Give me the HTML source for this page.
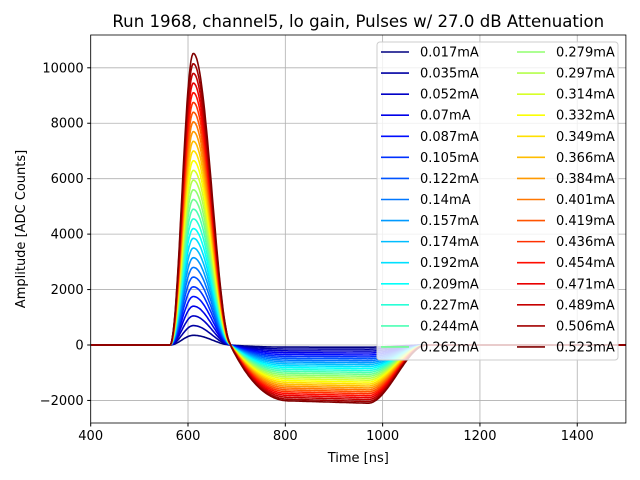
<!DOCTYPE html>
<html><head><meta charset="utf-8"><style>
body{margin:0;background:#fff;}
svg{display:block;font-family:"DejaVu Sans","Liberation Sans",sans-serif;}
</style></head><body>
<svg id="chart" width="640" height="480"></svg>
<script>
const currents=[0.017,0.035,0.052,0.07,0.087,0.105,0.122,0.14,0.157,0.174,0.192,0.209,0.227,0.244,0.262,0.279,0.297,0.314,0.332,0.349,0.366,0.384,0.401,0.419,0.436,0.454,0.471,0.489,0.506,0.523];
const peaks=[350,700,1050,1400,1750,2100,2450,2800,3150,3500,3850,4200,4550,4900,5250,5600,5950,6300,6650,7000,7350,7700,8050,8400,8750,9100,9450,9800,10150,10520];
const undershoots=[-80,-150,-220,-290,-360,-430,-500,-570,-640,-710,-780,-850,-920,-990,-1060,-1130,-1200,-1270,-1340,-1410,-1480,-1550,-1620,-1690,-1760,-1830,-1900,-1970,-2040,-2100];
const xTicks=[400,600,800,1000,1200,1400];
const yTicks=[-2000,0,2000,4000,6000,8000,10000];
const NS="http://www.w3.org/2000/svg";
const svg=document.getElementById('chart');
const L=90.7,R=625.9,T=35,B=423;
const X=v=>L+(v-400)/(1500-400)*(R-L);
const Y=v=>345-v*0.02772;
function el(t,a,p){const e=document.createElementNS(NS,t);for(const k in a)e.setAttribute(k,a[k]);(p||svg).appendChild(e);return e;}
function jet(f){const r=Math.min(Math.max(Math.min(4*f-1.5,-4*f+4.5),0),1),g=Math.min(Math.max(Math.min(4*f-0.5,-4*f+3.5),0),1),b=Math.min(Math.max(Math.min(4*f+0.5,-4*f+2.5),0),1);return `rgb(${Math.round(r*255)},${Math.round(g*255)},${Math.round(b*255)})`;}
function pos(t){if(t<563||t>690)return 0;if(t<611){const s=Math.sin(Math.PI/2*(t-563)/48);return s*s;}const c=Math.cos(Math.PI/2*(t-611)/79);return c*c;}
function neg(t){if(t<687||t>1090)return 0;if(t<810){const u=(t-687)/123;return -(1-Math.pow(1-u,2.2))*0.96;}if(t<970)return -(0.96+0.04*(t-810)/160);const u=(t-970)/120;return -(1-u*u*(3-2*u));}
el('rect',{x:0,y:0,width:640,height:480,fill:'#fff'});
const grid=el('g',{});
xTicks.forEach(v=>{el('line',{x1:X(v),x2:X(v),y1:T,y2:B,stroke:'#b0b0b0','stroke-width':0.8},grid);});
yTicks.forEach(v=>{el('line',{x1:L,x2:R,y1:Y(v),y2:Y(v),stroke:'#b0b0b0','stroke-width':0.8},grid);});
el('clipPath',{id:'cp'});el('rect',{x:L,y:T,width:R-L,height:B-T},document.getElementById('cp'));
const lines=el('g',{'clip-path':'url(#cp)',});
const n=currents.length;
currents.forEach((c,i)=>{let d='';for(let t=400;t<=1500;t+=2){const v=peaks[i]*pos(t)+(-undershoots[i])*neg(t);d+=(t===400?'M':'L')+X(t).toFixed(1)+','+Y(v).toFixed(1);}
const p=el('path',{d:d,fill:'none',stroke:jet(i/(n-1)),'stroke-width':1.6},lines);

});
el('rect',{x:L,y:T,width:R-L,height:B-T,fill:'none',stroke:'#000','stroke-width':0.8,});
xTicks.forEach(v=>{el('line',{x1:X(v),x2:X(v),y1:B,y2:B+3.5,stroke:'#000'});const t=el('text',{x:X(v),y:B+17,'text-anchor':'middle','font-size':13});t.textContent=v;});
yTicks.forEach(v=>{el('line',{x1:L-3.5,x2:L,y1:Y(v),y2:Y(v),stroke:'#000'});const t=el('text',{x:L-7,y:Y(v)+4.5,'text-anchor':'end','font-size':13});t.textContent=v<0?'\u2212'+(-v):v;});
let t=el('text',{x:(L+R)/2,y:462,'text-anchor':'middle','font-size':13,});t.textContent='Time [ns]';
t=el('text',{x:25,y:(T+B)/2,'text-anchor':'middle','font-size':13,transform:`rotate(-90 25 ${(T+B)/2})`,});t.textContent='Amplitude [ADC Counts]';
t=el('text',{x:(L+R)/2,y:27,'text-anchor':'middle','font-size':16.6,});t.textContent='Run 1968, channel5, lo gain, Pulses w/ 27.0 dB Attenuation';
const lg=el('g',{});
el('rect',{x:377,y:42,width:241,height:318,rx:3,fill:'#fff','fill-opacity':0.8,stroke:'#ccc'},lg);
currents.forEach((c,i)=>{const col=Math.floor(i/15),row=i%15;const y=52+row*21.07;const x0=col?517:381;
const g=el('g',{},lg);
el('line',{x1:x0,x2:x0+28,y1:y,y2:y,stroke:jet(i/(n-1)),'stroke-width':1.6},g);
const tx=el('text',{x:x0+39,y:y+4.5,'font-size':13},g);tx.textContent=c+'mA';});
</script>
</body></html>
